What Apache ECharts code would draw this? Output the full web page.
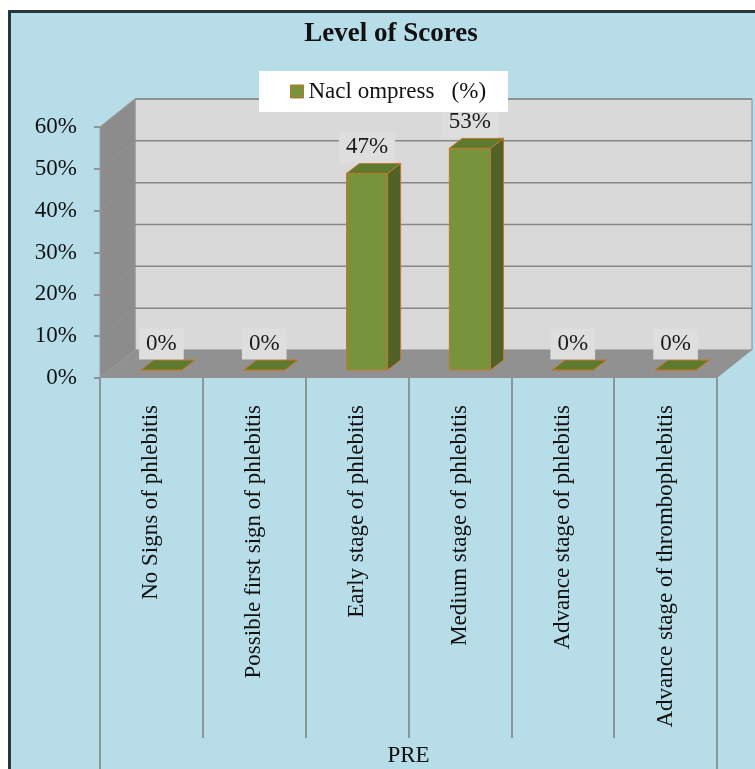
<!DOCTYPE html>
<html>
<head>
<meta charset="utf-8">
<script src="https://cdn.jsdelivr.net/npm/echarts@6/dist/echarts.min.js"></script>
<style>
  html, body { margin: 0; padding: 0; background: #fff; overflow: hidden; }
  #frame { position: absolute; left: 8px; top: 10px; width: 800px; height: 800px;
           box-sizing: border-box; border: 3px solid #27373b; background: #b7dde8; }
  #main { position: absolute; left: 0; top: 0; width: 755px; height: 769px; }
</style>
</head>
<body>
<div id="frame"></div>
<div id="main"></div>
<script>
// data
var categories = [
  "No Signs of phlebitis",
  "Possible first sign of phlebitis",
  "Early stage of phlebitis",
  "Medium stage of phlebitis",
  "Advance stage of phlebitis",
  "Advance stage of thrombophlebitis"
];
var groupLabels = ["PRE"];
var seriesName = "Nacl ompress   (%)";
var naclValues = [0, 0, 47, 53, 0, 0];
var yTicks = [0, 10, 20, 30, 40, 50, 60];

var FONT = "'Liberation Serif', 'Times New Roman', serif";
// 3D depth offsets (px)
var DX = 35, DY = -28;       // back wall
var BX = 10, BY = -8;        // where bars stand
var TX = 13, TY = -10;       // bar depth

var chart = echarts.init(document.getElementById("main"));

// walls + floor + gridlines
function renderFrame(params, api) {
  var cs = params.coordSys;
  var x0 = cs.x, x1 = cs.x + cs.width;
  var yb = api.coord([0, yTicks[0]])[1];
  var yt = api.coord([0, yTicks[yTicks.length - 1]])[1];
  var children = [];
  // back wall
  children.push({
    type: "polygon",
    shape: { points: [[x0 + DX, yt + DY], [x1 + DX, yt + DY], [x1 + DX, yb + DY], [x0 + DX, yb + DY]] },
    style: { fill: "#d9d9d9", stroke: "#8a8a8a", lineWidth: 1 }
  });
  // side wall
  children.push({
    type: "polygon",
    shape: { points: [[x0, yt], [x0 + DX, yt + DY], [x0 + DX, yb + DY], [x0, yb]] },
    style: { fill: "#8c8c8c", stroke: "#9a9a9a", lineWidth: 1 }
  });
  // floor
  children.push({
    type: "polygon",
    shape: { points: [[x0, yb], [x1, yb], [x1 + DX, yb + DY], [x0 + DX, yb + DY]] },
    style: { fill: "#919191" }
  });
  yTicks.forEach(function (v) {
    if (v === yTicks[0]) return;
    var y = api.coord([0, v])[1];
    children.push({
      type: "line",
      shape: { x1: x0 + DX, y1: y + DY, x2: x1 + DX, y2: y + DY },
      style: { stroke: "#868686", lineWidth: 1.5 }
    });
    children.push({
      type: "line",
      shape: { x1: x0, y1: y, x2: x0 + DX, y2: y + DY },
      style: { stroke: "#939393", lineWidth: 1 }
    });
  });
  return { type: "group", children: children };
}

// 3D-looking bars
function renderBar(params, api) {
  var idx = api.value(0), val = api.value(1);
  var base = api.coord([idx, 0]);
  var top = api.coord([idx, val]);
  var bw = api.size([1, 0])[0] * 0.4;
  var x0 = base[0] - bw / 2 + BX;
  var yb = base[1] + BY;
  var yt = top[1] + BY;
  var edge = { stroke: "#c8762f", lineWidth: 1 };
  return {
    type: "group",
    children: [
      {
        type: "rect",
        shape: { x: x0, y: yt, width: bw, height: yb - yt },
        style: Object.assign({ fill: "#77933c" }, edge)
      },
      {
        type: "polygon",
        shape: { points: [[x0 + bw, yt], [x0 + bw + TX, yt + TY], [x0 + bw + TX, yb + TY], [x0 + bw, yb]] },
        style: Object.assign({ fill: "#4f6228" }, edge)
      },
      {
        type: "polygon",
        shape: { points: [[x0, yt], [x0 + TX, yt + TY], [x0 + bw + TX, yt + TY], [x0 + bw, yt]] },
        style: Object.assign({ fill: "#5e7a2d" }, edge)
      },
      {
        type: "text",
        style: {
          x: x0 + bw / 2, y: yt - 26,
          text: val + "%",
          align: "center", verticalAlign: "middle",
          font: "23px " + FONT, fill: "#1a1a1a",
          backgroundColor: "#dedede", padding: [4, 7]
        }
      }
    ]
  };
}

var option = {
  animation: false,
  title: {
    text: "Level of Scores",
    left: 386, top: 16, textAlign: "center",
    textStyle: { fontFamily: FONT, fontSize: 27, fontWeight: "bold", color: "#111" }
  },
  legend: {
    data: [seriesName],
    left: 259, top: 71,
    padding: [9, 22, 9, 31],
    backgroundColor: "#fff",
    icon: "rect", itemWidth: 13, itemHeight: 13,
    itemStyle: { color: "#77933c", borderColor: "#c0702a", borderWidth: 1 },
    textStyle: { fontFamily: FONT, fontSize: 23, color: "#111" }
  },
  grid: { left: 100, right: 38, top: 127, bottom: 391 },
  xAxis: [
    {
      type: "category",
      data: categories,
      axisLine: { show: false },
      axisTick: { show: true, interval: 0, length: 360, lineStyle: { color: "#7f7f7f", width: 1.5 } },
      axisLabel: { interval: 0, rotate: 90, margin: 27, fontFamily: FONT, fontSize: 23, color: "#111" }
    },
    {
      type: "category",
      data: groupLabels,
      position: "bottom",
      axisLine: { show: false },
      axisTick: { show: true, length: 391, lineStyle: { color: "#7f7f7f", width: 1.5 } },
      axisLabel: { margin: 366, fontFamily: FONT, fontSize: 23, color: "#111" }
    }
  ],
  yAxis: {
    type: "value",
    min: yTicks[0], max: yTicks[yTicks.length - 1], interval: 10,
    axisLine: { show: false },
    axisTick: { show: true, length: 6, lineStyle: { color: "#7f7f7f", width: 1.5 } },
    splitLine: { show: false },
    axisLabel: { formatter: "{value}%", margin: 23, fontFamily: FONT, fontSize: 23, color: "#111" }
  },
  series: [
    {
      name: "frame",
      type: "custom",
      clip: false,
      z: 1,
      silent: true,
      renderItem: renderFrame,
      data: [[0, 0]]
    },
    {
      name: seriesName,
      type: "custom",
      clip: false,
      z: 2,
      itemStyle: { color: "#77933c" },
      renderItem: renderBar,
      encode: { x: 0, y: 1 },
      data: naclValues.map(function (v, i) { return [i, v]; })
    }
  ]
};
chart.setOption(option);
</script>
</body>
</html>
